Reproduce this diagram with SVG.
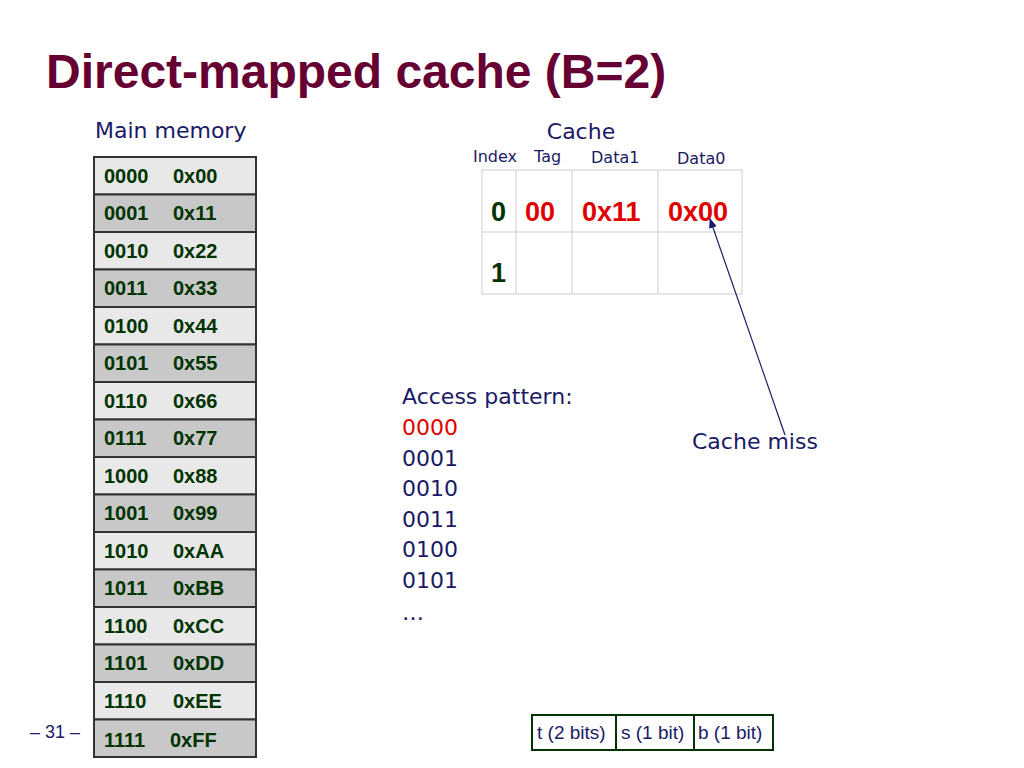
<svg xmlns="http://www.w3.org/2000/svg" width="1024" height="768" viewBox="0 0 1024 768">
<style>
.m{font-family:"Liberation Sans",Arial,sans-serif;font-weight:bold;font-size:20px;fill:#003300}
.b{font-family:"DejaVu Sans",sans-serif;fill:#1a1a66}
.l{fill:#e8e8e8;stroke:#333;stroke-width:2}
.d{fill:#c8c8c8;stroke:#333;stroke-width:2}
.c{font-family:"Liberation Sans",Arial,sans-serif;font-weight:bold;font-size:27px}
.a{font-family:"DejaVu Sans",sans-serif;font-size:22px;fill:#1a1a66}
.bb{fill:#fff;stroke:#003300;stroke-width:2}
.bt{font-family:"Liberation Sans",Arial,sans-serif;font-size:19px;fill:#1a1a66}
</style>
<defs><marker id="ah" markerWidth="10" markerHeight="10" refX="9" refY="5" orient="auto" markerUnits="userSpaceOnUse"><path d="M0,1 L10,5 L0,9 z" fill="#1a1a66"/></marker></defs>
<rect width="1024" height="768" fill="#fff"/>
<text x="46" y="88" font-family="Liberation Sans,Arial,sans-serif" font-weight="bold" font-size="48" fill="#660033">Direct-mapped cache (B=2)</text>
<text x="95" y="138" class="b" font-size="22">Main memory</text>
<g id="memory">
<rect class="l" x="94" y="157" width="162" height="37.5"/><text class="m" x="104" y="183">0000</text><text class="m" x="173" y="183">0x00</text>
<rect class="d" x="94" y="194.5" width="162" height="37.5"/><text class="m" x="104" y="220">0001</text><text class="m" x="173" y="220">0x11</text>
<rect class="l" x="94" y="232" width="162" height="37.5"/><text class="m" x="104" y="258">0010</text><text class="m" x="173" y="258">0x22</text>
<rect class="d" x="94" y="269.5" width="162" height="37.5"/><text class="m" x="104" y="295">0011</text><text class="m" x="173" y="295">0x33</text>
<rect class="l" x="94" y="307" width="162" height="37.5"/><text class="m" x="104" y="333">0100</text><text class="m" x="173" y="333">0x44</text>
<rect class="d" x="94" y="344.5" width="162" height="37.5"/><text class="m" x="104" y="370">0101</text><text class="m" x="173" y="370">0x55</text>
<rect class="l" x="94" y="382" width="162" height="37.5"/><text class="m" x="104" y="408">0110</text><text class="m" x="173" y="408">0x66</text>
<rect class="d" x="94" y="419.5" width="162" height="37.5"/><text class="m" x="104" y="445">0111</text><text class="m" x="173" y="445">0x77</text>
<rect class="l" x="94" y="457" width="162" height="37.5"/><text class="m" x="104" y="483">1000</text><text class="m" x="173" y="483">0x88</text>
<rect class="d" x="94" y="494.5" width="162" height="37.5"/><text class="m" x="104" y="520">1001</text><text class="m" x="173" y="520">0x99</text>
<rect class="l" x="94" y="532" width="162" height="37.5"/><text class="m" x="104" y="558">1010</text><text class="m" x="173" y="558">0xAA</text>
<rect class="d" x="94" y="569.5" width="162" height="37.5"/><text class="m" x="104" y="595">1011</text><text class="m" x="173" y="595">0xBB</text>
<rect class="l" x="94" y="607" width="162" height="37.5"/><text class="m" x="104" y="633">1100</text><text class="m" x="173" y="633">0xCC</text>
<rect class="d" x="94" y="644.5" width="162" height="37.5"/><text class="m" x="104" y="670">1101</text><text class="m" x="173" y="670">0xDD</text>
<rect class="l" x="94" y="682" width="162" height="37.5"/><text class="m" x="104" y="708">1110</text><text class="m" x="173" y="708">0xEE</text>
<rect class="d" x="94" y="719.5" width="162" height="37.5"/><text class="m" x="104" y="747">1111</text><text class="m" x="170" y="747">0xFF</text>
</g>
<text x="30" y="738" font-family="Liberation Sans,Arial,sans-serif" font-size="18" fill="#1a1a66">– 31 –</text>
<g id="cache">
<text x="581" y="139" class="b" font-size="22" text-anchor="middle">Cache</text>
<text x="473" y="162" class="b" font-size="16">Index</text>
<text x="534" y="162" class="b" font-size="16">Tag</text>
<text x="591" y="163" class="b" font-size="16">Data1</text>
<text x="677" y="164" class="b" font-size="16">Data0</text>
<g fill="none" stroke="#ccc" stroke-width="1">
<rect x="482" y="170" width="260" height="124"/>
<line x1="516" y1="170" x2="516" y2="294"/><line x1="572" y1="170" x2="572" y2="294"/><line x1="658" y1="170" x2="658" y2="294"/>
<line x1="482" y1="232" x2="742" y2="232"/>
</g>
<text class="c" x="491" y="221" fill="#003300">0</text>
<text class="c" x="525" y="221" fill="#e00000">00</text>
<text class="c" x="582" y="221" fill="#e00000">0x11</text>
<text class="c" x="668" y="221" fill="#e00000">0x00</text>
<text class="c" x="491" y="282" fill="#003300">1</text>
</g>
<g id="pattern">
<text class="a" x="402" y="404">Access pattern:</text>
<text class="a" x="402" y="435" style="fill:#e00000">0000</text>
<text class="a" x="402" y="466">0001</text>
<text class="a" x="402" y="496">0010</text>
<text class="a" x="402" y="527">0011</text>
<text class="a" x="402" y="557">0100</text>
<text class="a" x="402" y="588">0101</text>
<text class="a" x="402" y="620">…</text>
</g>
<text class="a" x="692" y="449">Cache miss</text>
<g id="connectors">
<line x1="785" y1="435" x2="710" y2="219" stroke="#1a1a66" stroke-width="1.2" marker-end="url(#ah)"/>
</g>
<g id="bits">
<rect class="bb" x="532" y="715" width="84" height="35"/><text class="bt" x="537" y="739">t (2 bits)</text>
<rect class="bb" x="616" y="715" width="78" height="35"/><text class="bt" x="621" y="739">s (1 bit)</text>
<rect class="bb" x="694" y="715" width="79" height="35"/><text class="bt" x="698" y="739">b (1 bit)</text>
</g>
</svg>
